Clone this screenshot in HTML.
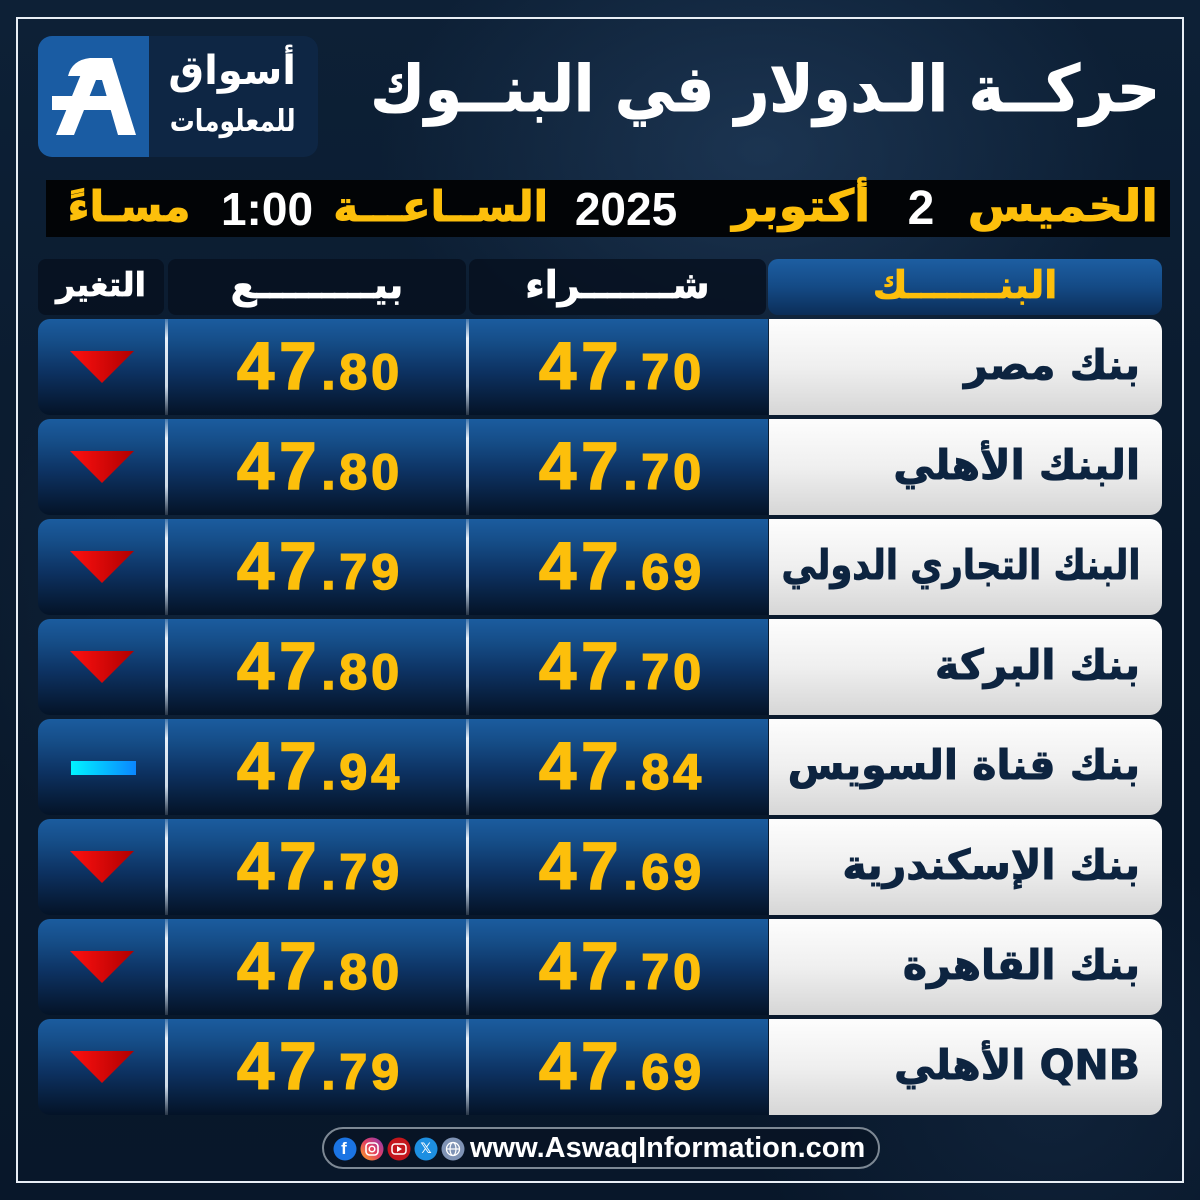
<!DOCTYPE html>
<html><head><meta charset="utf-8">
<style>
*{margin:0;padding:0;box-sizing:border-box}
body{width:1200px;height:1200px;overflow:hidden;position:relative;
background:
radial-gradient(ellipse 380px 260px at 760px 150px,rgba(40,70,105,.55),transparent),
radial-gradient(ellipse 300px 300px at 250px 600px,rgba(30,55,85,.35),transparent),
radial-gradient(ellipse 300px 260px at 1050px 1100px,rgba(30,55,85,.35),transparent),
linear-gradient(180deg,#0d2036 0%,#0a1a2d 50%,#08172a 100%);
font-family:"DejaVu Sans","Liberation Sans",sans-serif}
.abs{position:absolute}
.ar{position:absolute;direction:rtl;white-space:nowrap;font-weight:bold;font-family:"DejaVu Sans",sans-serif}
.frame{position:absolute;left:16px;top:17px;width:1168px;height:1166px;border:2px solid #e8eef5}
.bar{position:absolute;left:38px;width:730px;height:96px;border-radius:12px 0 0 12px;
background:linear-gradient(180deg,#1b5c9f 0%,#154c86 25%,#0d3262 55%,#071d3a 85%,#041327 100%)}
.div{position:absolute;width:3px;height:96px;background:linear-gradient(180deg,rgba(255,255,255,.2),#e9f1fa 20%,#cfdbe8 70%,rgba(255,255,255,.15))}
.name{position:absolute;left:769px;width:393px;height:96px;border-radius:0 12px 12px 0;
background:linear-gradient(180deg,#fdfdfd 0%,#efefef 50%,#d6d6d6 100%)}
.name span{position:absolute;right:22px;top:0;line-height:92px;direction:rtl;white-space:nowrap;font-weight:bold;font-size:41px;color:#0d2440;font-family:"DejaVu Sans",sans-serif;-webkit-text-stroke:1px #0d2440;transform-origin:right center}
.num{position:absolute;width:300px;height:96px;text-align:center;font-family:"Liberation Sans",sans-serif;font-weight:bold;color:#fdbf0b;line-height:96px;white-space:nowrap;-webkit-text-stroke:1.6px #fdbf0b}
.num b{font-size:67px;letter-spacing:5px}
.num i{font-style:normal;font-size:50px;letter-spacing:4px}
.hdr{position:absolute;top:259px;height:56px;border-radius:8px;background:rgba(6,16,30,.82)}
.hdr span,.hb span{position:absolute;left:0;right:0;text-align:center;top:0;line-height:52px;direction:rtl;white-space:nowrap;font-weight:bold;font-size:38px;color:#fff;font-family:"DejaVu Sans",sans-serif;-webkit-text-stroke:.8px currentColor}
.tri{position:absolute;left:70px}
.dt{-webkit-text-stroke:1px currentColor}
</style></head><body>

<div class="frame"></div>

<!-- logo -->
<div class="abs" style="left:38px;top:36px;width:280px;height:121px;border-radius:14px;background:#0e2644;overflow:hidden">
  <div class="abs" style="left:0;top:0;width:111px;height:121px;background:#1a5ca3"></div>
  <svg class="abs" style="left:0;top:0" width="111" height="121" viewBox="0 0 111 121">
    <path d="M18 99 L48 26 Q50 22 56 22 L74 22 L98 99 L80 99 L64 44 L58 44 L36 99 Z" fill="#fff"/>
    <path d="M14 60 L82 60 L86 74 L14 74 Z" fill="#fff"/>
    <path d="M30 40 Q34 24 52 22 L56 22 L48 40 Z" fill="#fff"/>
  </svg>
  <div class="ar" style="right:22px;top:10px;font-size:40px;color:#fff;line-height:50px">أسواق</div>
  <div class="ar" style="right:22px;top:66px;font-size:30px;color:#fff;line-height:40px;transform:scaleX(.83);transform-origin:right center">للمعلومات</div>
</div>

<!-- title -->
<div class="ar" style="right:40px;top:48px;font-size:64px;color:#fff;line-height:84px;transform:scaleX(.93);transform-origin:right center;-webkit-text-stroke:1px #fff">حركــة الـدولار في البنــوك</div>

<!-- date bar -->
<div class="abs" style="left:46px;top:180px;width:1124px;height:57px;background:#020406"></div>
<div class="ar dt" style="right:42px;top:180px;font-size:44px;color:#fdbf0b;line-height:54px;transform:scaleX(1.1);transform-origin:right center">الخميس</div>
<div class="abs" style="left:900px;top:180px;width:42px;text-align:center;font-family:'Liberation Sans',sans-serif;font-weight:bold;font-size:48px;color:#fff;line-height:58px">2</div>
<div class="ar dt" style="right:330px;top:180px;font-size:44px;color:#fdbf0b;line-height:54px;transform:scaleX(1.06);transform-origin:right center">أكتوبر</div>
<div class="abs" style="left:566px;top:180px;width:120px;text-align:center;font-family:'Liberation Sans',sans-serif;font-weight:bold;font-size:46px;color:#fff;line-height:58px">2025</div>
<div class="ar dt" style="right:652px;top:180px;font-size:42px;color:#fdbf0b;line-height:54px">الســاعـــة</div>
<div class="abs" style="left:218px;top:180px;width:98px;text-align:center;font-family:'Liberation Sans',sans-serif;font-weight:bold;font-size:46px;color:#fff;line-height:58px">1:00</div>
<div class="ar dt" style="right:1010px;top:180px;font-size:42px;color:#fdbf0b;line-height:54px;transform:scaleX(1.02);transform-origin:right center">مسـاءً</div>

<!-- header row -->
<div class="hdr" style="left:38px;width:126px"><span style="font-size:33px">التغير</span></div>
<div class="hdr" style="left:168px;width:298px"><span>بيـــــــــع</span></div>
<div class="hdr" style="left:469px;width:297px"><span>شـــــــراء</span></div>
<div class="hb abs" style="left:768px;top:259px;width:394px;height:56px;border-radius:10px;background:linear-gradient(180deg,#1d5ea2 0%,#144a85 50%,#0b2e58 100%)"><span style="color:#fdbf0b">البنـــــــك</span></div>

<svg width="0" height="0" style="position:absolute"><defs><linearGradient id="rg" x1="0" x2="1" y1="0" y2="0"><stop offset="0" stop-color="#ff1010"/><stop offset="1" stop-color="#b00000"/></linearGradient></defs></svg>

<!-- row 1 -->
<div class="bar" style="top:319px"></div>
<div class="div" style="left:165px;top:319px"></div><div class="div" style="left:466px;top:319px"></div>
<svg class="tri" style="top:351px" width="64" height="32"><polygon points="0,0 64,0 32,32" fill="url(#rg)"/></svg>
<div class="num" style="left:170px;top:319px"><b>47</b><i>.80</i></div>
<div class="num" style="left:472px;top:319px"><b>47</b><i>.70</i></div>
<div class="name" style="top:319px"><span>بنك مصر</span></div>

<!-- row 2 -->
<div class="bar" style="top:419px"></div>
<div class="div" style="left:165px;top:419px"></div><div class="div" style="left:466px;top:419px"></div>
<svg class="tri" style="top:451px" width="64" height="32"><polygon points="0,0 64,0 32,32" fill="url(#rg)"/></svg>
<div class="num" style="left:170px;top:419px"><b>47</b><i>.80</i></div>
<div class="num" style="left:472px;top:419px"><b>47</b><i>.70</i></div>
<div class="name" style="top:419px"><span>البنك الأهلي</span></div>

<!-- row 3 -->
<div class="bar" style="top:519px"></div>
<div class="div" style="left:165px;top:519px"></div><div class="div" style="left:466px;top:519px"></div>
<svg class="tri" style="top:551px" width="64" height="32"><polygon points="0,0 64,0 32,32" fill="url(#rg)"/></svg>
<div class="num" style="left:170px;top:519px"><b>47</b><i>.79</i></div>
<div class="num" style="left:472px;top:519px"><b>47</b><i>.69</i></div>
<div class="name" style="top:519px"><span style="transform:scaleX(.86)">البنك التجاري الدولي</span></div>

<!-- row 4 -->
<div class="bar" style="top:619px"></div>
<div class="div" style="left:165px;top:619px"></div><div class="div" style="left:466px;top:619px"></div>
<svg class="tri" style="top:651px" width="64" height="32"><polygon points="0,0 64,0 32,32" fill="url(#rg)"/></svg>
<div class="num" style="left:170px;top:619px"><b>47</b><i>.80</i></div>
<div class="num" style="left:472px;top:619px"><b>47</b><i>.70</i></div>
<div class="name" style="top:619px"><span>بنك البركة</span></div>

<!-- row 5 -->
<div class="bar" style="top:719px"></div>
<div class="div" style="left:165px;top:719px"></div><div class="div" style="left:466px;top:719px"></div>
<div class="abs" style="left:71px;top:761px;width:65px;height:14px;background:linear-gradient(90deg,#00f4ff,#0a86ff)"></div>
<div class="num" style="left:170px;top:719px"><b>47</b><i>.94</i></div>
<div class="num" style="left:472px;top:719px"><b>47</b><i>.84</i></div>
<div class="name" style="top:719px"><span>بنك قناة السويس</span></div>

<!-- row 6 -->
<div class="bar" style="top:819px"></div>
<div class="div" style="left:165px;top:819px"></div><div class="div" style="left:466px;top:819px"></div>
<svg class="tri" style="top:851px" width="64" height="32"><polygon points="0,0 64,0 32,32" fill="url(#rg)"/></svg>
<div class="num" style="left:170px;top:819px"><b>47</b><i>.79</i></div>
<div class="num" style="left:472px;top:819px"><b>47</b><i>.69</i></div>
<div class="name" style="top:819px"><span>بنك الإسكندرية</span></div>

<!-- row 7 -->
<div class="bar" style="top:919px"></div>
<div class="div" style="left:165px;top:919px"></div><div class="div" style="left:466px;top:919px"></div>
<svg class="tri" style="top:951px" width="64" height="32"><polygon points="0,0 64,0 32,32" fill="url(#rg)"/></svg>
<div class="num" style="left:170px;top:919px"><b>47</b><i>.80</i></div>
<div class="num" style="left:472px;top:919px"><b>47</b><i>.70</i></div>
<div class="name" style="top:919px"><span>بنك القاهرة</span></div>

<!-- row 8 -->
<div class="bar" style="top:1019px"></div>
<div class="div" style="left:165px;top:1019px"></div><div class="div" style="left:466px;top:1019px"></div>
<svg class="tri" style="top:1051px" width="64" height="32"><polygon points="0,0 64,0 32,32" fill="url(#rg)"/></svg>
<div class="num" style="left:170px;top:1019px"><b>47</b><i>.79</i></div>
<div class="num" style="left:472px;top:1019px"><b>47</b><i>.69</i></div>
<div class="name" style="top:1019px"><span>QNB الأهلي</span></div>

<!-- footer -->
<div class="abs" style="left:322px;top:1127px;width:558px;height:42px;border-radius:21px;border:2px solid #7d8894;background:rgba(8,20,36,.85)"></div>
<svg class="abs" style="left:332px;top:1136px" width="134" height="26">
  <defs>
    <linearGradient id="ig" x1="0" y1="1" x2="1" y2="0"><stop offset="0" stop-color="#f9a825"/><stop offset=".5" stop-color="#e4405f"/><stop offset="1" stop-color="#8a3ab9"/></linearGradient>
  </defs>
  <circle cx="13" cy="13" r="11.5" fill="#1b74e4"/>
  <circle cx="40" cy="13" r="11.5" fill="url(#ig)"/>
  <rect x="34" y="7" width="12" height="12" rx="3.5" fill="none" stroke="#fff" stroke-width="1.6"/>
  <circle cx="40" cy="13" r="2.8" fill="none" stroke="#fff" stroke-width="1.5"/>
  <circle cx="67" cy="13" r="11.5" fill="#c4161c"/>
  <rect x="60" y="8" width="14" height="10" rx="3" fill="none" stroke="#fff" stroke-width="1.5"/>
  <polygon points="65,10 65,16 70,13" fill="#fff"/>
  <circle cx="94" cy="13" r="11.5" fill="#1d8fe1"/>
  <circle cx="121" cy="13" r="11.5" fill="#7f93b5"/>
  <circle cx="121" cy="13" r="6.5" fill="none" stroke="#fff" stroke-width="1.3"/>
  <line x1="114.5" y1="13" x2="127.5" y2="13" stroke="#fff" stroke-width="1.2"/>
  <ellipse cx="121" cy="13" rx="3" ry="6.5" fill="none" stroke="#fff" stroke-width="1.2"/>
</svg>
<div class="abs" style="left:336px;top:1133px;width:16px;text-align:center;font-family:'Liberation Sans',sans-serif;font-weight:bold;font-size:17px;color:#fff;line-height:32px">f</div>
<div class="abs" style="left:418px;top:1133px;width:16px;text-align:center;font-family:'DejaVu Sans',sans-serif;font-weight:bold;font-size:14px;color:#fff;line-height:32px">𝕏</div>
<div class="abs" style="left:470px;top:1127px;font-family:'Liberation Sans',sans-serif;font-weight:bold;font-size:29px;color:#fff;line-height:42px;white-space:nowrap">www.AswaqInformation.com</div>

</body></html>
